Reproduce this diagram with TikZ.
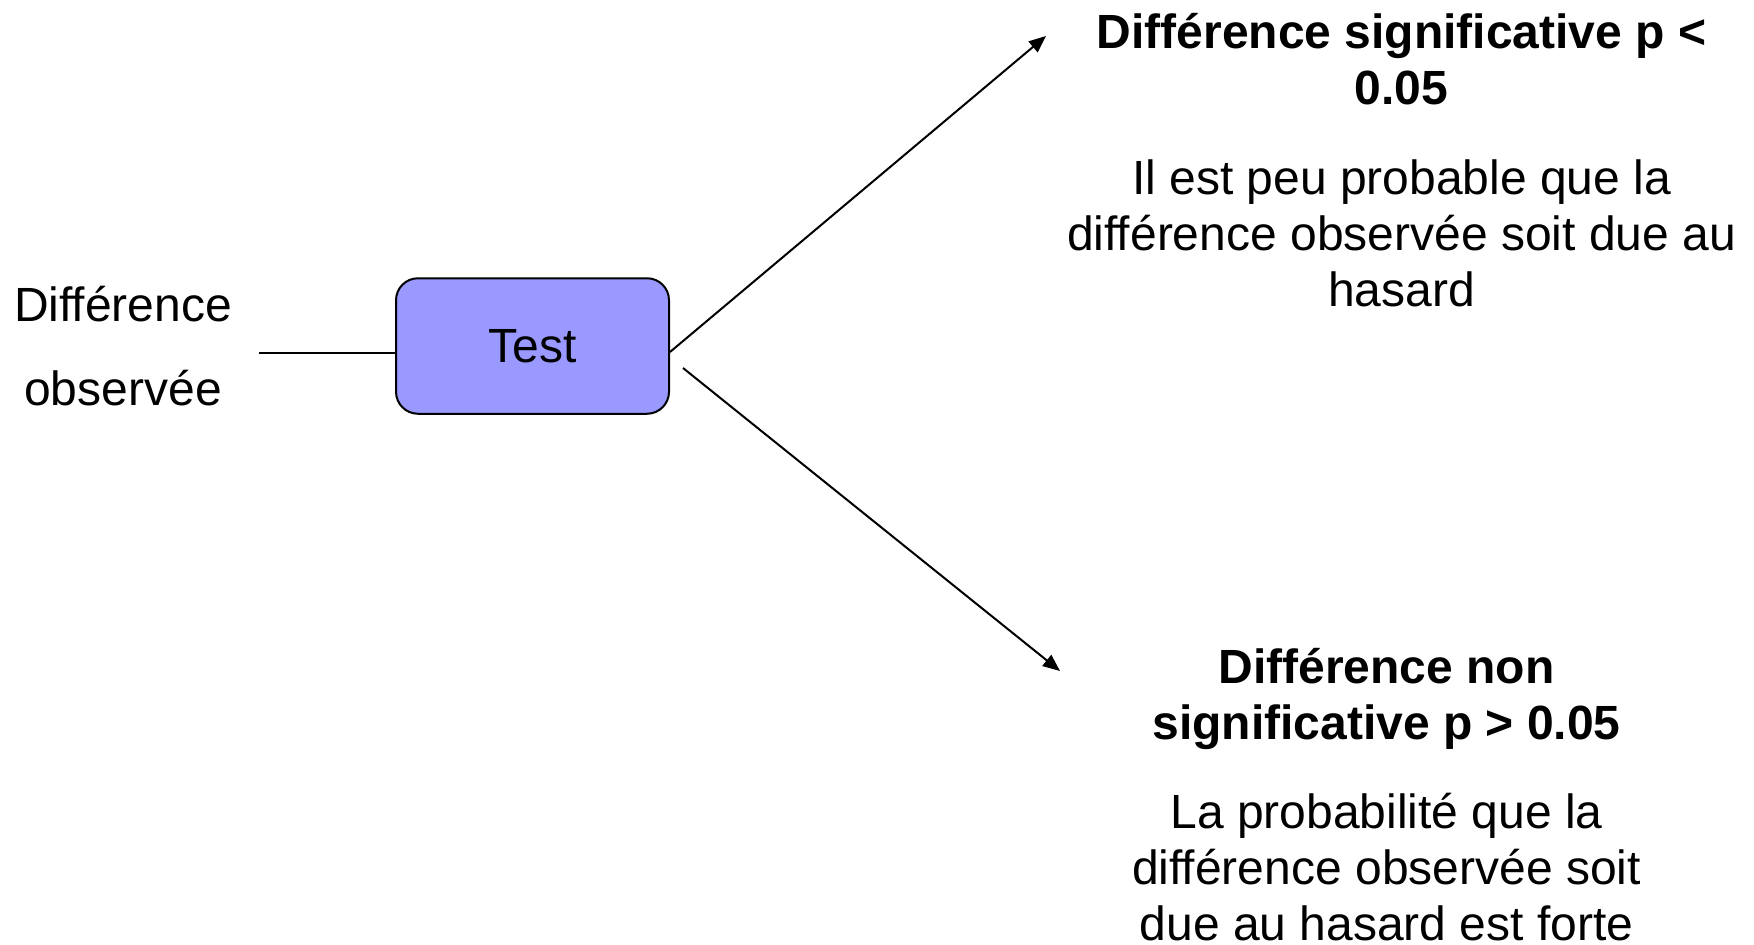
\documentclass[tikz,border=0pt]{standalone}
\usepackage{fontspec}
\setmainfont{Liberation Sans}
\usetikzlibrary{arrows.meta,calc}
\definecolor{boxfill}{HTML}{9999FF}
\tikzset{
  lbl/.style={inner sep=0pt, align=center, font=\fontsize{48}{84}\selectfont},
  ttl/.style={inner sep=0pt, align=center, font=\fontsize{48}{56}\selectfont\bfseries},
  txt/.style={inner sep=0pt, align=center, font=\fontsize{48}{56}\selectfont},
  testbox/.style={draw=black, line width=2pt, fill=boxfill, rounded corners=22pt,
    minimum width=273pt, minimum height=135.5pt, inner sep=0pt, font=\fontsize{48}{56}\selectfont},
  link/.style={line width=2pt},
  arr/.style={line width=2pt, -{Triangle[length=17pt,width=14pt]}}
}
\begin{document}
\begin{tikzpicture}[x=1pt,y=-1pt]
\useasboundingbox (0,0) rectangle (1754,945);
\node[lbl, anchor=base] (obs) at (123,405) {Différence\\observée};
\node[testbox] (box) at (532.5,346) {\raisebox{-3pt}{Test}};
\coordinate (in) at (259,353);
\draw[link] (in) -- (in -| box.west);
\coordinate (tipA) at (1046,36);
\coordinate (tipB) at (1060,671);
\draw[arr] ([yshift=-6pt]box.east) -- (tipA);
\draw[arr] ([xshift=13pt,yshift=-22pt]box.east) -- (tipB);
\node[ttl, anchor=base] (sigT) at (1401.6,104) {Différence significative p <\\0.05};
\node[txt, anchor=base] (sigD) at (1401.6,306) {Il est peu probable que la\\différence observée soit due au\\hasard};
\node[ttl, anchor=base] (nsT) at (1386.5,739) {Différence non\\significative p > 0.05};
\node[txt, anchor=base] (nsD) at (1386.5,940) {La probabilité que la\\différence observée soit\\due au hasard est forte};
\end{tikzpicture}
\end{document}
